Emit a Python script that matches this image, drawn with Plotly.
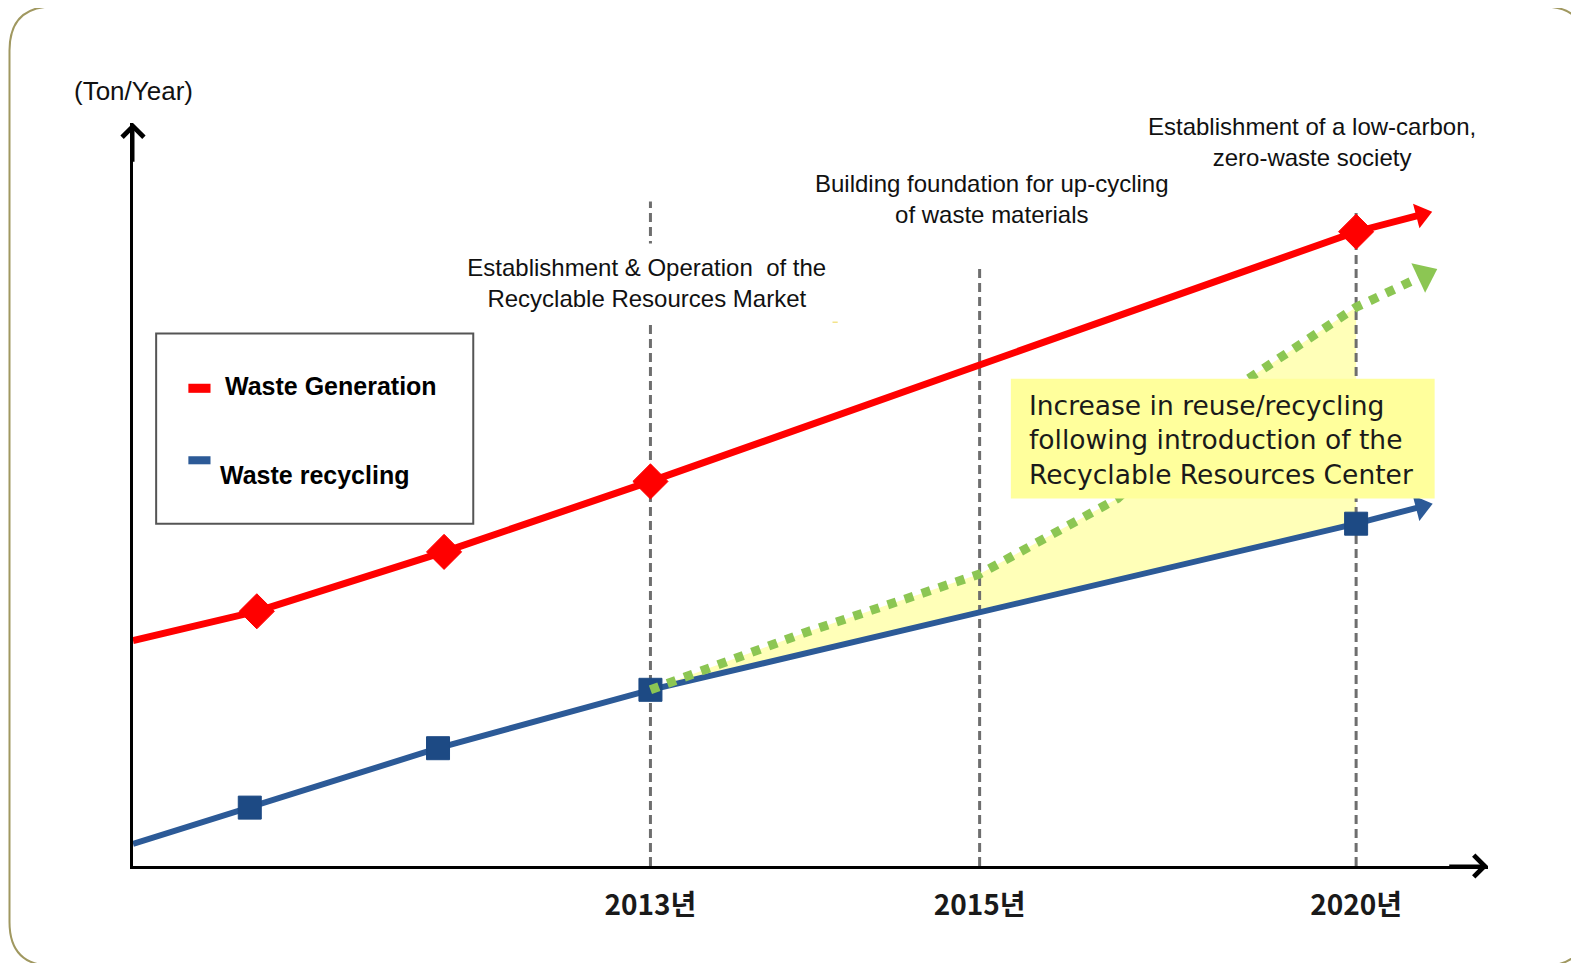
import plotly.graph_objects as go

# ---------------- data (relative units) ----------------
# x: position along the time axis, y: relative amount (Ton/Year)
tick_x = [5.14, 8.41, 12.15]
tick_text = ["2013년", "2015년", "2020년"]
milestone_top = [6.60, 5.97, 6.50]

gen_x = [0.0, 1.23, 3.09, 5.14, 12.15, 12.80]
gen_y = [2.24, 2.53, 3.12, 3.82, 6.30, 6.47]

rec_x = [0.0, 1.16, 3.03, 5.14, 12.15, 12.80]
rec_y = [0.22, 0.58, 1.17, 1.75, 3.40, 3.57]

target_x = [5.14, 6.68, 8.41, 9.78, 11.08, 12.15, 12.83]
target_y = [1.75, 2.32, 2.90, 3.65, 4.84, 5.55, 5.87]

milestone_labels = [
    "Establishment & Operation  of the<br>Recyclable Resources Market",
    "Building foundation for up-cycling<br>of waste materials",
    "Establishment of a low-carbon,<br>zero-waste society",
]
box_text = ("Increase in reuse/recycling<br>following introduction of the"
            "<br>Recyclable Resources Center")

X_MAX = 13.46
Y_MAX = 7.38

# ---------------- layout helpers ----------------
W, H = 1579, 963
BODY = 8                      # page body margin of the html page
PW, PH = 1355, 743
ML = 133 - BODY
MT = 123 - BODY
MB = H - (866 - BODY)
MR = W - ML - PW
S = W / 1568.0


def dx(p):  # reference pixel -> x axis units
    return (p - 132) / 100.0


def dy(p):  # reference pixel -> y axis units
    return (860 - p) / 100.0


def paper_x(X):  # screen pixel -> paper
    return (X - 133) / PW


def paper_y(Y):
    return (866 - Y) / PH


FONT = "Liberation Sans, Arial, sans-serif"
RED = "#ff0000"
BLUE = "#2c5a97"
BLUE_MK = "#1d4a84"
GREEN = "#8cc653"

fig = go.Figure()

# yellow area between recycling line and the target trend (2013 -> 2020)
fx = [x for x in target_x if x <= tick_x[2]]
fy = target_y[:len(fx)]
fx += [rec_x[4], rec_x[3]]
fy += [rec_y[4], rec_y[3]]
fig.add_trace(go.Scatter(x=fx, y=fy, fill="toself", mode="lines",
                         fillcolor="rgba(255,255,140,0.62)",
                         line=dict(width=0), hoverinfo="skip",
                         showlegend=False))

# milestone dashed verticals
vx, vy = [], []
for x, t in zip(tick_x, milestone_top):
    vx += [x, x, None]
    vy += [0, t, None]
fig.add_trace(go.Scatter(x=vx, y=vy, mode="lines",
                         line=dict(color="#6e6e6e", width=3, dash="9px,5px"),
                         hoverinfo="skip", showlegend=False, cliponaxis=False))

# waste recycling
n = len(rec_x)
fig.add_trace(go.Scatter(
    x=rec_x, y=rec_y, mode="lines+markers", name="Waste recycling",
    line=dict(color=BLUE, width=6),
    marker=dict(symbol="square", color=BLUE_MK, opacity=1,
                size=[0] + [23] * (n - 2) + [0],
                line=dict(width=1, color=BLUE_MK)),
    showlegend=False, cliponaxis=False))

# target trend (green dotted)
fig.add_trace(go.Scatter(
    x=target_x, y=target_y, mode="lines",
    line=dict(color=GREEN, width=9, dash="dot"),
    showlegend=False, cliponaxis=False))

# waste generation
n = len(gen_x)
fig.add_trace(go.Scatter(
    x=gen_x, y=gen_y, mode="lines+markers", name="Waste Generation",
    line=dict(color=RED, width=7),
    marker=dict(symbol="diamond", color=RED, opacity=1,
                size=[0] + [27] * (n - 2) + [0],
                line=dict(width=1, color=RED)),
    showlegend=False, cliponaxis=False))

# arrow heads at the ends of the three series
for xs, ys, col, sz in [(gen_x, gen_y, RED, 22), (rec_x, rec_y, BLUE, 23),
                        (target_x, target_y, GREEN, 28)]:
    fig.add_trace(go.Scatter(
        x=xs[-2:], y=ys[-2:], mode="markers",
        marker=dict(symbol="triangle-up", size=[0, sz], color=col, opacity=1,
                    angleref="previous", line=dict(width=0)),
        hoverinfo="skip", showlegend=False, cliponaxis=False))

# ---------------- shapes ----------------
shapes = []

# outer rounded frame (screen pixels)
x0, y0, x1, y1, r = 9.5, 6.5, 1587.0, 966.0, 44.0
px, py = paper_x, paper_y
path = (f"M{px(x0 + r)},{py(y0)} L{px(x1 - r)},{py(y0)} "
        f"Q{px(x1)},{py(y0)} {px(x1)},{py(y0 + r)} "
        f"L{px(x1)},{py(y1 - r)} Q{px(x1)},{py(y1)} {px(x1 - r)},{py(y1)} "
        f"L{px(x0 + r)},{py(y1)} Q{px(x0)},{py(y1)} {px(x0)},{py(y1 - r)} "
        f"L{px(x0)},{py(y0 + r)} Q{px(x0)},{py(y0)} {px(x0 + r)},{py(y0)} Z")
shapes.append(dict(type="path", path=path, xref="paper", yref="paper",
                   line=dict(color="#a09860", width=2), layer="below"))

# legend box and samples
shapes.append(dict(type="rect", x0=dx(155), x1=dx(470), y0=dy(331), y1=dy(520),
                   line=dict(color="#555555", width=2), fillcolor="white",
                   layer="above"))
shapes.append(dict(type="rect", x0=dx(187), x1=dx(209), y0=dy(381), y1=dy(390),
                   line=dict(width=0), fillcolor=RED, layer="above"))
shapes.append(dict(type="rect", x0=dx(187), x1=dx(209), y0=dy(453), y1=dy(461),
                   line=dict(width=0), fillcolor=BLUE, layer="above"))

# yellow callout box
shapes.append(dict(type="rect", x0=dx(1004), x1=dx(1425), y0=dy(376), y1=dy(495),
                   line=dict(width=0), fillcolor="#ffff9c", layer="above"))

# faint underline below the first milestone label
shapes.append(dict(type="line", x0=dx(470), x1=dx(832), y0=dy(320), y1=dy(320),
                   line=dict(color="#f3e38a", width=1.5), layer="above"))

# ---------------- annotations ----------------
ann = []
ann.append(dict(x=paper_x(132.5 * S), y=paper_y(90 * S), xref="paper",
                yref="paper", text="(Ton/Year)", showarrow=False,
                font=dict(family=FONT, size=26, color="#111111"),
                xanchor="center", yanchor="middle"))

ann.append(dict(x=dx(643), y=dy(281), text=milestone_labels[0], showarrow=False,
                font=dict(family=FONT, size=24, color="#111111"),
                bgcolor="white", width=365 * S, height=76 * S,
                xanchor="center", yanchor="middle"))
ann.append(dict(x=dx(985), y=dy(197), text=milestone_labels[1], showarrow=False,
                font=dict(family=FONT, size=24, color="#111111"),
                xanchor="center", yanchor="middle"))
ann.append(dict(x=dx(1303), y=dy(141), text=milestone_labels[2], showarrow=False,
                font=dict(family=FONT, size=24, color="#111111"),
                xanchor="center", yanchor="middle"))

# legend labels
ann.append(dict(x=dx(221), y=dy(383), text="<b>Waste Generation</b>",
                showarrow=False, xanchor="left", yanchor="middle",
                font=dict(family=FONT, size=25, color="#000000")))
ann.append(dict(x=dx(216), y=dy(472), text="<b>Waste recycling</b>",
                showarrow=False, xanchor="left", yanchor="middle",
                font=dict(family=FONT, size=25, color="#000000")))

# callout text
ann.append(dict(x=dx(1020), y=dy(437), text=box_text, showarrow=False,
                xanchor="left", yanchor="middle", align="left",
                font=dict(family="DejaVu Sans, sans-serif", size=26.5,
                          color="#1a1a1a")))

# axis arrow heads
ann.append(dict(x=0, y=Y_MAX, ax=0, ay=Y_MAX - 0.4, xref="x", yref="y",
                axref="x", ayref="y", showarrow=True, arrowhead=4,
                arrowsize=1.4, arrowwidth=3, arrowcolor="black", text=""))
ann.append(dict(x=X_MAX, y=0, ax=X_MAX - 0.4, ay=0, xref="x", yref="y",
                axref="x", ayref="y", showarrow=True, arrowhead=4,
                arrowsize=1.4, arrowwidth=3, arrowcolor="black", text=""))

fig.update_layout(
    width=W, height=H,
    margin=dict(l=ML, r=MR, t=MT, b=MB, pad=0),
    paper_bgcolor="white", plot_bgcolor="white",
    shapes=shapes, annotations=ann, showlegend=False,
    xaxis=dict(range=[0, X_MAX], showgrid=False, zeroline=False,
               showline=True, linecolor="black", linewidth=3,
               tickvals=tick_x, ticktext=tick_text, ticks="",
               ticklabelstandoff=12,
               tickfont=dict(family="Noto Sans CJK KR", size=28,
                             weight=700, color="#1a1a1a"),
               fixedrange=True),
    yaxis=dict(range=[0, Y_MAX], showgrid=False, zeroline=False,
               showline=True, linecolor="black", linewidth=3,
               showticklabels=False, ticks="", fixedrange=True),
)

fig.write_html("out.html")
